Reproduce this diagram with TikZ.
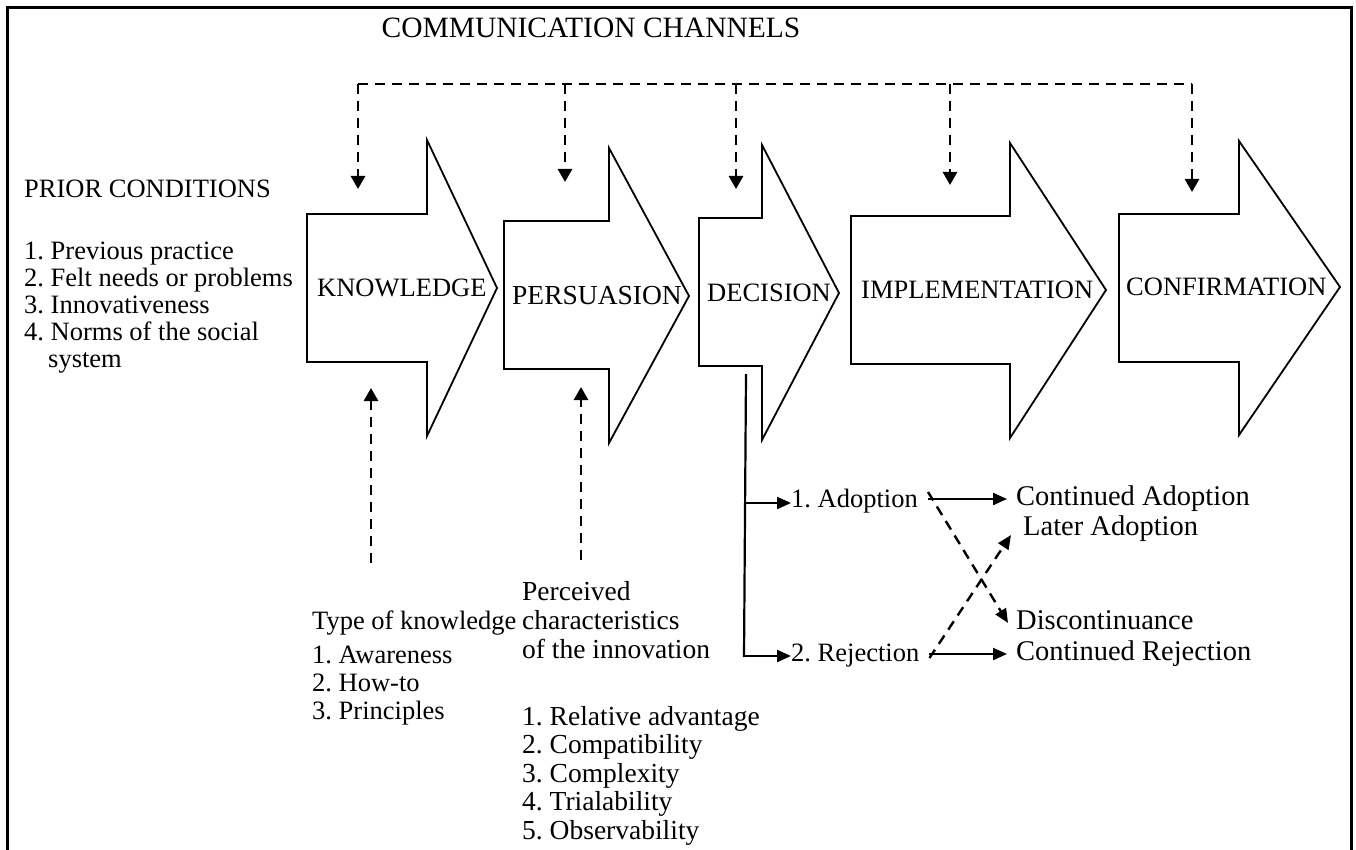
\documentclass[tikz,border=0pt]{standalone}
\usepackage{fontspec}
\setmainfont{Liberation Serif}
\usetikzlibrary{arrows.meta,calc}
\begin{document}
\frenchspacing
\begin{tikzpicture}[x=1pt,y=-1pt,
  txt/.style={font=\fontsize{26.5}{30}\selectfont, inner sep=0pt, anchor=west, text height=18pt, text depth=6pt},
  mid/.style={font=\fontsize{27.5}{31}\selectfont},
  big/.style={font=\fontsize{28.5}{32}\selectfont},
  huge/.style={font=\fontsize{29.5}{33}\selectfont},
  stage/.style={draw=black, line width=1.8pt, fill=white, line join=miter},
  dsh/.style={line width=2.8pt, dash pattern=on 10pt off 7pt},
  dtip/.style={-{Triangle[width=14pt,length=13pt]}},
  solarrow/.style={line width=2.2pt, -{Triangle[width=12pt,length=14pt]}},
  dsharrow/.style={line width=2.4pt, dash pattern=on 10pt off 7pt, -{Triangle[width=12pt,length=14pt]}}]
\useasboundingbox (0,0) rectangle (1356,850);
% frame
\draw[line width=3pt] (7,870) -- (7,8) -- (1351,8) -- (1351,870);

% stage arrows
\draw[stage] (307,214) -- (427,214) -- (427,140) -- (497,288) -- (427,436) -- (427,362) -- (307,362) -- cycle;
\draw[stage] (504,221) -- (609,221) -- (609,148) -- (689,296) -- (609,443) -- (609,369) -- (504,369) -- cycle;
\draw[stage] (699,218) -- (762,218) -- (762,145) -- (839,293) -- (762,440) -- (762,366) -- (699,366) -- cycle;
\draw[stage] (851,216) -- (1010,216) -- (1010,143) -- (1106,290) -- (1010,438) -- (1010,364) -- (851,364) -- cycle;
\draw[stage] (1119,214) -- (1239,214) -- (1239,141) -- (1340,287) -- (1239,435) -- (1239,362) -- (1119,362) -- cycle;

\node[txt] (know) at (317,290) {KNOWLEDGE};
\node[txt,mid] (pers) at (512,298) {PERSUASION};
\node[txt] (deci) at (707,295) {DECISION};
\node[txt] (impl) at (861,292) {IMPLEMENTATION};
\node[txt] (conf) at (1126,289) {CONFIRMATION};

% communication channels
\node[txt,anchor=center,huge] (comm) at (591,32) {COMMUNICATION CHANNELS};
\coordinate (busL) at (358,84);
\coordinate (busR) at (1192,84);
\coordinate (bP) at (565,84);
\coordinate (bD) at (736,84);
\coordinate (bI) at (950,84);
\coordinate (inK) at (358,189);
\coordinate (inP) at (565,182);
\coordinate (inD) at (736,189);
\coordinate (inI) at (950,185);
\coordinate (inC) at (1192,192);
\draw[dsh] (busL) -- (busR);
\draw[dsh,dtip] (busL) -- (inK);
\draw[dsh,dtip] (bP) -- (inP);
\draw[dsh,dtip] (bD) -- (inD);
\draw[dsh,dtip] (bI) -- (inI);
\draw[dsh,dtip] (busR) -- (inC);

% prior conditions
\node[txt] (prior) at (24,192) {PRIOR CONDITIONS};
\node[txt] (p1) at (24,253) {1. Previous practice};
\node[txt] (p2) at (24,280) {2. Felt needs or problems};
\node[txt] (p3) at (24,307) {3. Innovativeness};
\node[txt] (p4) at (24,334) {4. Norms of the social};
\node[txt] (p5) at (48,361) {system};

% type of knowledge
\node[txt] (typek) at (312,623) {Type of knowledge};
\node[txt] (k1) at (312,657) {1. Awareness};
\node[txt] (k2) at (312,685) {2. How-to};
\node[txt] (k3) at (312,713) {3. Principles};
\coordinate (upK) at (371,563);
\coordinate (upKt) at (371,388);
\draw[dsh,dtip] (upK) -- (upKt);

% perceived characteristics
\node[txt,mid] (perc) at (522,594) {Perceived};
\node[txt,mid] (chr) at (522,623) {characteristics};
\node[txt,mid] (inno) at (522,652) {of the innovation};
\node[txt,mid] (r1) at (522,719) {1. Relative advantage};
\node[txt,mid] (r2) at (522,747.5) {2. Compatibility};
\node[txt,mid] (r3) at (522,776) {3. Complexity};
\node[txt,mid] (r4) at (522,804.5) {4. Trialability};
\node[txt,mid] (r5) at (522,833) {5. Observability};
\coordinate (upP) at (581,560);
\coordinate (upPt) at (581,387);
\draw[dsh,dtip] (upP) -- (upPt);

% decision outcomes
\node[txt] (adopt) at (791,501) {1. Adoption};
\node[txt] (rej) at (791,655) {2. Rejection};
\node[txt,big] (cad) at (1016,499) {Continued Adoption};
\node[txt,big] (lat) at (1023,529) {Later Adoption};
\node[txt,big] (disc) at (1016,623) {Discontinuance};
\node[txt,big] (crej) at (1016,654) {Continued Rejection};

\coordinate (dTop) at (746,374);
\coordinate (dBot) at (744,657);
\coordinate (dA) at (745,503);
\coordinate (dR) at (744,656);
\draw[line width=2.2pt] (dTop) -- (dBot);
\draw[solarrow] (dA) -- (dA -| adopt.west);
\draw[solarrow] (dR) -- (dR -| rej.west);
\draw[solarrow] ([xshift=10pt]adopt.east |- cad.west) -- ([xshift=-9pt]cad.west);
\draw[solarrow] ([xshift=10pt]rej.east |- crej.west) -- ([xshift=-9pt]crej.west);
\draw[dsharrow] ([xshift=10pt,yshift=9pt]adopt.east) -- ([xshift=-8pt]disc.west);
\draw[dsharrow] ([xshift=10pt,yshift=-3pt]rej.east) -- ([xshift=-12pt,yshift=-6pt]lat.west);
\end{tikzpicture}
\end{document}
